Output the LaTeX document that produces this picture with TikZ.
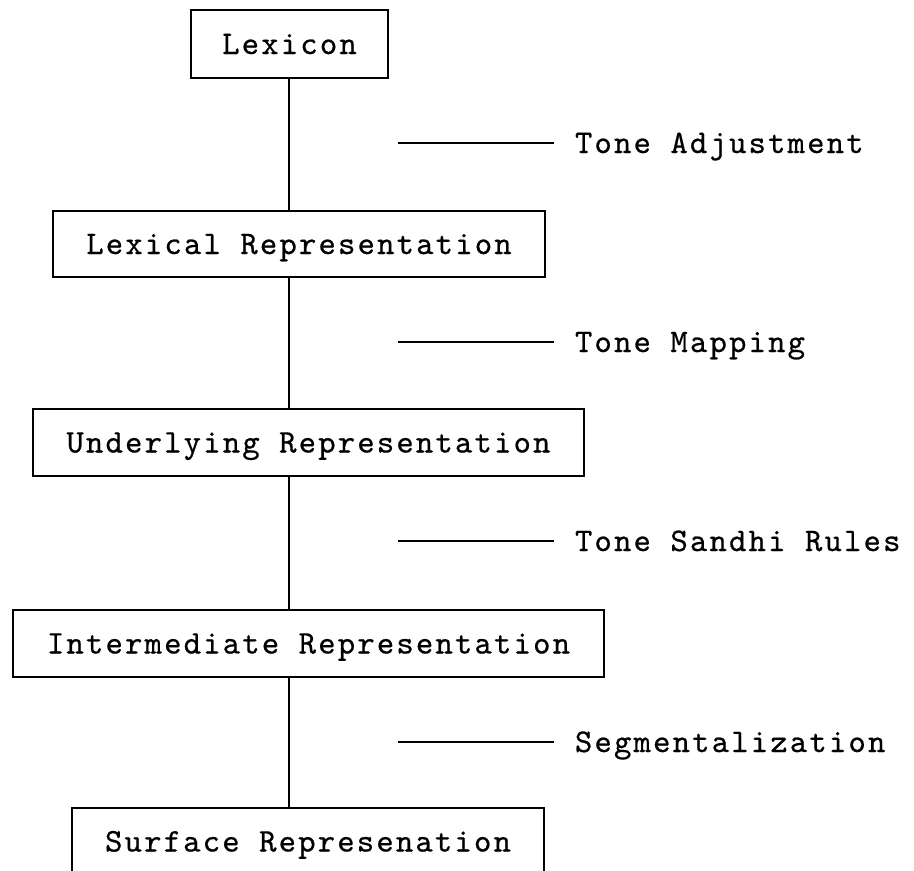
\documentclass[tikz,border=0pt]{standalone}
\usepackage{fontspec}
\newfontfamily\dmfont{lmmono10-regular.otf}[LetterSpace=6.7, FakeBold=0.6]
\begin{document}
\begin{tikzpicture}[x=1pt,y=-1pt,
  stagebox/.style={draw=black, line width=2.3pt, font=\dmfont\fontsize{33}{33}\selectfont,
    text height=20pt, text depth=0pt, inner sep=0pt, minimum height=67pt},
  sidelabel/.style={font=\dmfont\fontsize{33}{33}\selectfont, text height=20pt, text depth=0pt,
    inner ysep=0pt, inner xsep=0pt, outer xsep=21pt, anchor=west},
  spineline/.style={line width=2.3pt},
  tickline/.style={line width=1.6pt}]
\useasboundingbox (0,0) rectangle (914,871);
\begin{scope}
\clip (0,0) rectangle (914,871);
\coordinate (spine) at (289,0);
\node[stagebox, minimum width=197pt, minimum height=68pt] (lexicon) at (289.5,44) {Lexicon};
\node[stagebox, minimum width=492pt, minimum height=66pt] (lexrep) at (299,244) {Lexical Representation};
\node[stagebox, minimum width=551pt] (undrep) at (308.5,442.5) {Underlying Representation};
\node[stagebox, minimum width=591pt] (intrep) at (308.5,643.5) {Intermediate Representation};
\node[stagebox, minimum width=472pt] (surfrep) at (308,841.5) {Surface Represenation};

\draw[spineline] (lexicon.south -| spine) -- (lexrep.north -| spine);
\draw[spineline] (lexrep.south -| spine) -- (undrep.north -| spine);
\draw[spineline] (undrep.south -| spine) -- (intrep.north -| spine);
\draw[spineline] (intrep.south -| spine) -- (surfrep.north -| spine);

\node[sidelabel] (adj) at (554,143) {Tone Adjustment};
\node[sidelabel] (map) at (554,342) {Tone Mapping};
\node[sidelabel] (sandhi) at (554,541) {Tone Sandhi Rules};
\node[sidelabel] (seg) at (554,742) {Segmentalization};

\coordinate (adjstart) at (398,143);
\coordinate (mapstart) at (398,342);
\coordinate (sandhistart) at (398,541);
\coordinate (segstart) at (398,742);
\draw[tickline] (adjstart) -- (adj.west);
\draw[tickline] (mapstart) -- (map.west);
\draw[tickline] (sandhistart) -- (sandhi.west);
\draw[tickline] (segstart) -- (seg.west);
\end{scope}
\end{tikzpicture}
\end{document}
